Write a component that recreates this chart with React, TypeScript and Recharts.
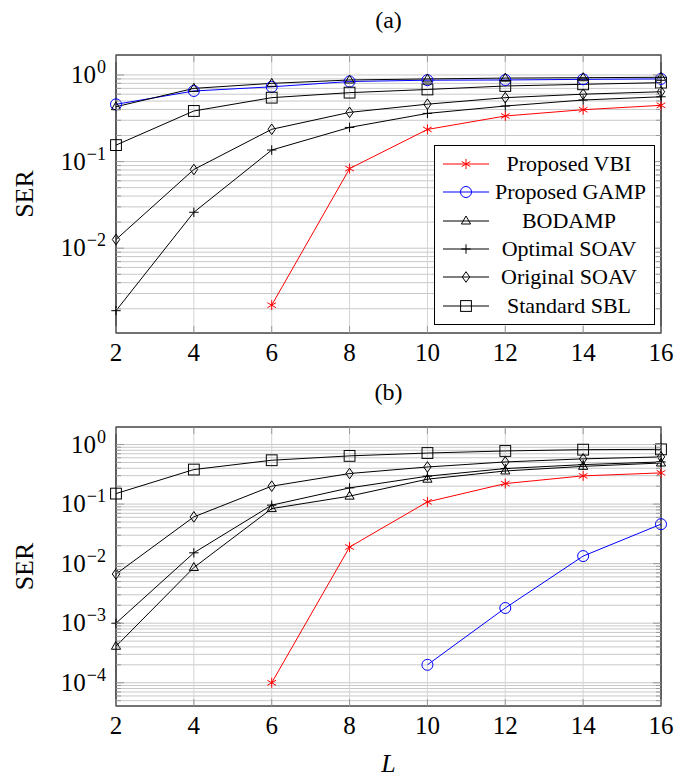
import React from 'react';
import { LineChart, Line, XAxis, YAxis, CartesianGrid, ReferenceArea, Legend } from 'recharts';

const L = [2, 4, 6, 8, 10, 12, 14, 16];

// panel (a)
const vbiA = [null, null, 0.0022, 0.083, 0.235, 0.336, 0.397, 0.446];
const gampA = [0.458, 0.653, 0.73, 0.84, 0.87, 0.875, 0.89, 0.9];
const bodampA = [0.43, 0.7, 0.8, 0.875, 0.9, 0.92, 0.93, 0.94];
const optSoavA = [0.0019, 0.026, 0.136, 0.248, 0.36, 0.438, 0.514, 0.56];
const origSoavA = [0.0126, 0.081, 0.236, 0.37, 0.46, 0.547, 0.6, 0.64];
const sblA = [0.155, 0.384, 0.547, 0.625, 0.68, 0.746, 0.78, 0.815];

// panel (b)
const vbiB = [null, null, 1e-4, 0.019, 0.109, 0.221, 0.298, 0.334];
const gampB = [null, null, null, null, 2.0e-4, 1.8e-3, 0.0134, 0.046];
const bodampB = [4.1e-4, 8.6e-3, 0.084, 0.136, 0.262, 0.36, 0.43, 0.49];
const optSoavB = [1.0e-3, 0.0152, 0.096, 0.187, 0.294, 0.395, 0.46, 0.51];
const origSoavB = [6.7e-3, 0.061, 0.2, 0.326, 0.42, 0.51, 0.575, 0.62];
const sblB = [0.15, 0.38, 0.545, 0.645, 0.72, 0.78, 0.82, 0.83];

const xTicks = [2, 4, 6, 8, 10, 12, 14, 16];

const SERIES = [
  { key: 'vbi', name: 'Proposed VBI', color: '#ff0000', mark: 'star' },
  { key: 'gamp', name: 'Proposed GAMP', color: '#0000ff', mark: 'circle' },
  { key: 'bodamp', name: 'BODAMP', color: '#000000', mark: 'triangle' },
  { key: 'opt', name: 'Optimal SOAV', color: '#000000', mark: 'plus' },
  { key: 'orig', name: 'Original SOAV', color: '#000000', mark: 'diamond' },
  { key: 'sbl', name: 'Standard SBL', color: '#000000', mark: 'square' },
];

const FONT = '"Liberation Serif", "Times New Roman", serif';
const PLOT_L = 116;
const PLOT_R = 661;
const MID_X = (PLOT_L + PLOT_R) / 2;

function buildRows(cols: Record<string, (number | null)[]>) {
  return L.map((l, i) => {
    const row: any = { L: l };
    Object.keys(cols).forEach(k => { row[k] = cols[k][i]; });
    return row;
  });
}

const dataA = buildRows({ vbi: vbiA, gamp: gampA, bodamp: bodampA, opt: optSoavA, orig: origSoavA, sbl: sblA });
const dataB = buildRows({ vbi: vbiB, gamp: gampB, bodamp: bodampB, opt: optSoavB, orig: origSoavB, sbl: sblB });

function logTicks(min: number, max: number) {
  const out: number[] = [];
  for (let e = Math.floor(Math.log10(min)); e <= Math.ceil(Math.log10(max)); e++) {
    for (let k = 1; k <= 9; k++) {
      const v = k * Math.pow(10, e);
      if (v >= min && v <= max) out.push(v);
    }
  }
  return out;
}

function Marker({ mark, cx, cy, color }: { mark: string; cx: number; cy: number; color: string }) {
  const p = { stroke: color, strokeWidth: 1, fill: 'none' };
  switch (mark) {
    case 'star': {
      const r = 5;
      const c = r * Math.cos(Math.PI / 6);
      const s = r * Math.sin(Math.PI / 6);
      return (
        <g {...p}>
          <line x1={cx} y1={cy - r} x2={cx} y2={cy + r} />
          <line x1={cx - c} y1={cy - s} x2={cx + c} y2={cy + s} />
          <line x1={cx - c} y1={cy + s} x2={cx + c} y2={cy - s} />
        </g>
      );
    }
    case 'circle':
      return <ellipse cx={cx} cy={cy} rx={5.5} ry={5.5} {...p} />;
    case 'triangle':
      return <polygon points={`${cx},${cy - 5} ${cx + 4.6},${cy + 3} ${cx - 4.6},${cy + 3}`} {...p} />;
    case 'plus':
      return (
        <g {...p}>
          <line x1={cx - 4.7} y1={cy} x2={cx + 4.7} y2={cy} />
          <line x1={cx} y1={cy - 4.7} x2={cx} y2={cy + 4.7} />
        </g>
      );
    case 'diamond':
      return <polygon points={`${cx},${cy - 5.3} ${cx + 3.7},${cy} ${cx},${cy + 5.3} ${cx - 3.7},${cy}`} {...p} />;
    default:
      return <rect x={cx - 5.4} y={cy - 5.4} width={10.8} height={10.8} {...p} />;
  }
}

function LegendBox() {
  return (
    <div style={{ border: '1px solid #000', background: '#fff', width: 221, height: 180, boxSizing: 'border-box', paddingTop: 4, fontFamily: FONT, fontSize: 22, color: '#000' }}>
      {SERIES.map(s => (
        <div key={s.key} style={{ display: 'flex', alignItems: 'center', height: 28.3 }}>
          <svg width={60} height={28} style={{ flex: 'none' }}>
            <line x1={8} x2={54} y1={14} y2={14} stroke={s.key === 'bodamp' ? '#555' : s.color} strokeWidth={s.key === 'bodamp' ? 1.6 : 1} />
            <Marker mark={s.mark} cx={31} cy={14} color={s.color} />
          </svg>
          <div style={{ width: 148, textAlign: 'center', whiteSpace: 'nowrap', lineHeight: '28px' }}>{s.name}</div>
        </div>
      ))}
    </div>
  );
}

interface PanelProps {
  data: any[];
  domain: [number, number];
  height: number;
  top: number;
  bottom: number;
  showLegend?: boolean;
  showXLabel?: boolean;
}

function Panel({ data, domain, height, top, bottom, showLegend, showXLabel }: PanelProps) {
  const yTicks = logTicks(domain[0], domain[1]);
  const plotBottom = height - bottom - 30;
  const midY = (top + plotBottom) / 2;

  const YTick = (props: any) => {
    const { x, y, payload } = props;
    const e = Math.log10(payload.value);
    const major = Math.abs(e - Math.round(e)) < 1e-6;
    const len = major ? 8 : 5;
    const ex = Math.round(e);
    return (
      <g>
        <line x1={PLOT_L} x2={PLOT_L + len} y1={y} y2={y} stroke="#999" />
        <line x1={PLOT_R - len} x2={PLOT_R} y1={y} y2={y} stroke="#999" />
        {major && (
          <text x={x} y={y + 8} textAnchor="end" fontFamily={FONT} fontSize={25} fill="#000">
            10<tspan dx={1} dy={-10} fontSize={18}>{ex < 0 ? `\u2212${-ex}` : `${ex}`}</tspan>
          </text>
        )}
      </g>
    );
  };

  const XTick = (props: any) => {
    const { x, y, payload } = props;
    return (
      <g>
        <line x1={x} x2={x} y1={plotBottom} y2={plotBottom - 7} stroke="#999" />
        <line x1={x} x2={x} y1={top} y2={top + 7} stroke="#999" />
        <text x={x} y={y + 28} textAnchor="middle" fontFamily={FONT} fontSize={25} fill="#000">{payload.value}</text>
      </g>
    );
  };

  return (
    <LineChart width={689} height={height} data={data} margin={{ top, right: 689 - PLOT_R, bottom, left: 8 }}>
      <CartesianGrid stroke="#c8c8c8" strokeWidth={1} vertical={false} />
      <CartesianGrid stroke="#d4d4d4" strokeWidth={1} horizontal={false} />
      <XAxis
        dataKey="L"
        type="number"
        domain={[2, 16]}
        ticks={xTicks}
        interval={0}
        height={30}
        axisLine={false}
        tickLine={false}
        tickSize={0}
        tickMargin={0}
        tick={<XTick />}
        label={showXLabel ? () => (
          <text x={MID_X} y={plotBottom + 66} textAnchor="middle" fontFamily={FONT} fontStyle="italic" fontSize={26} fill="#000">L</text>
        ) : undefined}
      />
      <YAxis
        type="number"
        scale="log"
        domain={domain}
        allowDataOverflow
        ticks={yTicks}
        interval={0}
        width={PLOT_L - 8}
        axisLine={false}
        tickLine={false}
        tickSize={0}
        tickMargin={10}
        tick={<YTick />}
        label={() => (
          <text x={33} y={midY} transform={`rotate(-90 33 ${midY})`} textAnchor="middle" fontFamily={FONT} fontSize={26} fill="#000">SER</text>
        )}
      />
      <ReferenceArea x1={2} x2={16} y1={domain[0]} y2={domain[1]} fill="none" stroke="#000" strokeWidth={1.2} ifOverflow="visible" />
      {SERIES.map(s => (
        <Line
          key={s.key}
          dataKey={s.key}
          name={s.name}
          stroke={s.color}
          strokeWidth={1}
          isAnimationActive={false}
          dot={(dp: any) => {
            const k = `${s.key}-${dp.index}`;
            if (dp.value == null || dp.cx == null || dp.cy == null || isNaN(dp.cy)) return <g key={k} />;
            return <g key={k}><Marker mark={s.mark} cx={dp.cx} cy={dp.cy} color={s.color} /></g>;
          }}
          activeDot={false}
        />
      ))}
      {showLegend && (
        <Legend
          layout="horizontal"
          verticalAlign="middle"
          align="center"
          content={() => <LegendBox />}
          wrapperStyle={{ left: 434, top: 145, width: 221, height: 180 }}
        />
      )}
    </LineChart>
  );
}

export default function App() {
  const title = (t: string, y: number) => (
    <div style={{ position: 'absolute', left: MID_X - 100, width: 200, top: y, textAlign: 'center', fontFamily: FONT, fontSize: 24, lineHeight: '26px', color: '#000' }}>{t}</div>
  );
  return (
    <div style={{ position: 'absolute', left: 0, top: 0, width: 689, height: 777, background: '#fff' }}>
      {title('(a)', 7)}
      <div style={{ position: 'absolute', left: 0, top: 0 }}>
        <Panel data={dataA} domain={[0.00105, 1.7]} height={380} top={55} bottom={17} showLegend />
      </div>
      {title('(b)', 379)}
      <div style={{ position: 'absolute', left: 0, top: 380 }}>
        <Panel data={dataB} domain={[4.07e-5, 1.97]} height={397} top={47} bottom={41} showXLabel />
      </div>
    </div>
  );
}
